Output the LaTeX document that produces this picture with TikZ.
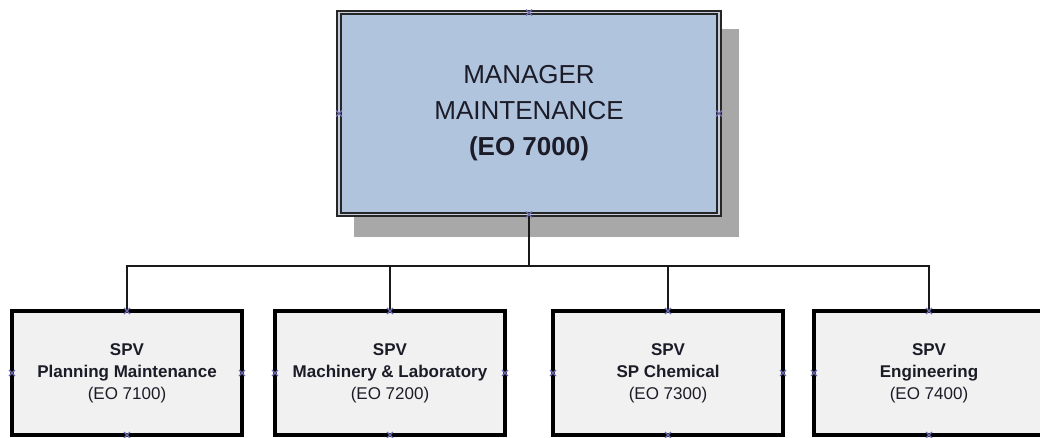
\documentclass[tikz,border=0pt]{standalone}
\usepackage{fontspec}
\setmainfont{Liberation Sans}
\definecolor{mgrfill}{RGB}{176,196,222}
\definecolor{mgrdouble}{RGB}{196,204,218}
\definecolor{spvfill}{RGB}{241,241,241}
\definecolor{shadowgray}{RGB}{168,168,168}
\definecolor{textdark}{RGB}{28,28,40}
\definecolor{markcol}{RGB}{110,110,180}
\begin{document}
\begin{tikzpicture}[x=1pt,y=-1pt,
  mgrbox/.style={draw=black!85, double=mgrdouble, double distance=1.8pt, line width=2pt,
    fill=mgrfill, minimum width=380pt, minimum height=202pt, outer sep=0pt, inner sep=0pt,
    align=center, text=textdark, font=\fontsize{26}{36}\selectfont},
  spvbox/.style={draw=black, line width=3.3pt, fill=spvfill, minimum width=230pt,
    minimum height=124pt, outer sep=0pt, inner sep=0pt, align=center, text=textdark,
    font=\fontsize{17}{22}\selectfont},
  link/.style={draw=black!90, line width=2.3pt},
  cmark/.style={draw=markcol, line width=1.1pt}
]
\useasboundingbox (0,0) rectangle (1040,437);
% shadow of the manager box
\fill[shadowgray] (354,29) rectangle (739,237);
\node[mgrbox] (mgr) at (529,113.5) {MANAGER\\MAINTENANCE\\\textbf{(EO 7000)}};
\node[spvbox] (c1) at (127,373) {\textbf{SPV}\\\textbf{Planning Maintenance}\\(EO 7100)};
\node[spvbox] (c2) at (390,373) {\textbf{SPV}\\\textbf{Machinery \& Laboratory}\\(EO 7200)};
\node[spvbox] (c3) at (668,373) {\textbf{SPV}\\\textbf{SP Chemical}\\(EO 7300)};
\node[spvbox] (c4) at (929,373) {\textbf{SPV}\\\textbf{Engineering}\\(EO 7400)};
\coordinate (bus) at (529,266);
\draw[link] (mgr.south) -- (bus);
\draw[link] (c1.north) |- (bus) -| (c4.north);
\draw[link] (c2.north) -- (c2.north |- bus);
\draw[link] (c3.north) -- (c3.north |- bus);
\foreach \n in {mgr,c1,c2,c3,c4}{
  \foreach \a in {north,south,east,west}{
    \draw[cmark, shift={(\n.\a)}] (-3,-3) -- (3,3) (-3,3) -- (3,-3);
  }
}
\end{tikzpicture}
\end{document}
